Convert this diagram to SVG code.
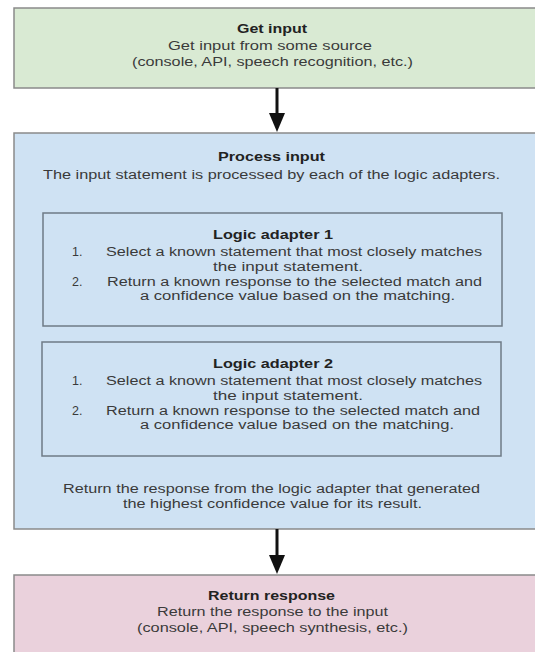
<svg xmlns="http://www.w3.org/2000/svg" width="535" height="652" viewBox="0 0 535 652">
<style>
text{font-family:"Liberation Sans",Arial,sans-serif;font-size:12.5px;fill:#3a3a3a;text-anchor:middle}
.b{font-weight:bold;fill:#222}
.l{text-anchor:start}
.outer{stroke:#8a8a8a;stroke-width:1.5}
.inner{fill:none;stroke:#6f7b86;stroke-width:1.5}
.conn{stroke:#111;stroke-width:3;fill:none}
</style>
<g id="get-input">
<rect class="outer" x="14" y="8" width="530" height="80" fill="#d9ead3"/>
<text class="b" x="272" y="33" textLength="70" lengthAdjust="spacingAndGlyphs">Get input</text>
<text x="270" y="50" textLength="204" lengthAdjust="spacingAndGlyphs">Get input from some source</text>
<text x="272.5" y="66" textLength="281" lengthAdjust="spacingAndGlyphs">(console, API, speech recognition, etc.)</text>
</g>
<g id="process-input">
<rect class="outer" x="14" y="133" width="530" height="396" fill="#cfe2f3"/>
<text class="b" x="271.5" y="161" textLength="107" lengthAdjust="spacingAndGlyphs">Process input</text>
<text x="271.5" y="179" textLength="457" lengthAdjust="spacingAndGlyphs">The input statement is processed by each of the logic adapters.</text>
<text x="271.5" y="493" textLength="417" lengthAdjust="spacingAndGlyphs">Return the response from the logic adapter that generated</text>
<text x="272.5" y="508" textLength="299" lengthAdjust="spacingAndGlyphs">the highest confidence value for its result.</text>
</g>
<g id="logic-adapter-1">
<rect class="inner" x="43" y="213" width="459" height="113"/>
<text class="b" x="273" y="239" textLength="120" lengthAdjust="spacingAndGlyphs">Logic adapter 1</text>
<text class="l" x="72" y="256">1.</text>
<text class="l" x="106" y="256" textLength="376" lengthAdjust="spacingAndGlyphs">Select a known statement that most closely matches</text>
<text x="288" y="271" textLength="150" lengthAdjust="spacingAndGlyphs">the input statement.</text>
<text class="l" x="72" y="286">2.</text>
<text class="l" x="107" y="286" textLength="375" lengthAdjust="spacingAndGlyphs">Return a known response to the selected match and</text>
<text x="297.5" y="300" textLength="315" lengthAdjust="spacingAndGlyphs">a confidence value based on the matching.</text>
</g>
<g id="logic-adapter-2">
<rect class="inner" x="42" y="342" width="459" height="114"/>
<text class="b" x="273" y="368" textLength="120" lengthAdjust="spacingAndGlyphs">Logic adapter 2</text>
<text class="l" x="72" y="385">1.</text>
<text class="l" x="106" y="385" textLength="376" lengthAdjust="spacingAndGlyphs">Select a known statement that most closely matches</text>
<text x="288" y="400" textLength="150" lengthAdjust="spacingAndGlyphs">the input statement.</text>
<text class="l" x="72" y="415">2.</text>
<text class="l" x="106" y="415" textLength="374" lengthAdjust="spacingAndGlyphs">Return a known response to the selected match and</text>
<text x="297" y="429" textLength="314" lengthAdjust="spacingAndGlyphs">a confidence value based on the matching.</text>
</g>
<g id="return-response">
<rect class="outer" x="14" y="575" width="530" height="90" fill="#ead1dc"/>
<text class="b" x="271.5" y="600" textLength="127" lengthAdjust="spacingAndGlyphs">Return response</text>
<text x="272.5" y="616" textLength="231" lengthAdjust="spacingAndGlyphs">Return the response to the input</text>
<text x="272.5" y="632" textLength="271" lengthAdjust="spacingAndGlyphs">(console, API, speech synthesis, etc.)</text>
</g>
<g id="connectors">
<line class="conn" x1="277" y1="88" x2="277" y2="114"/>
<path d="M269,113 L285,113 L277,132 Z" fill="#111"/>
<line class="conn" x1="277" y1="529" x2="277" y2="556"/>
<path d="M269,555 L285,555 L277,574 Z" fill="#111"/>
</g>
</svg>
